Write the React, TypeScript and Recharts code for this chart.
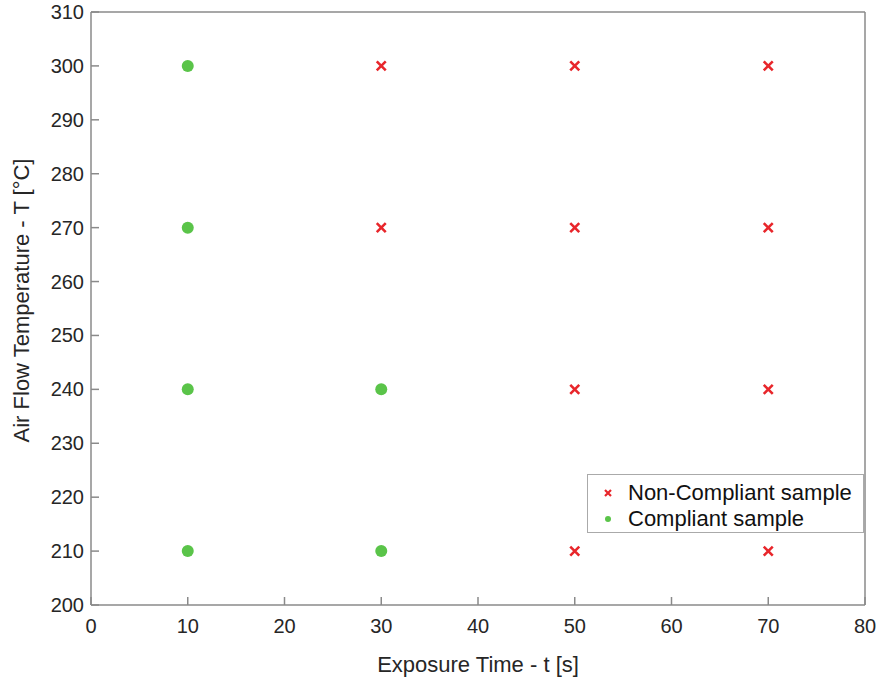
import { Legend, Scatter, ScatterChart, XAxis, YAxis } from "recharts";

// exposure time [s] and air flow temperature [°C] per sample
const compliantTime = [10, 10, 10, 30, 10, 30];
const compliantTemp = [300, 270, 240, 240, 210, 210];
const nonCompliantTime = [30, 50, 70, 30, 50, 70, 50, 70, 50, 70];
const nonCompliantTemp = [300, 300, 300, 270, 270, 270, 240, 240, 210, 210];

const seriesNames = ["Non-Compliant sample", "Compliant sample"];

const xTicks = [0, 10, 20, 30, 40, 50, 60, 70, 80];
const yTicks = [200, 210, 220, 230, 240, 250, 260, 270, 280, 290, 300, 310];

const compliant = compliantTime.map((t, i) => ({ t, T: compliantTemp[i] }));
const nonCompliant = nonCompliantTime.map((t, i) => ({ t, T: nonCompliantTemp[i] }));

const RED = "#e8262b";
const GREEN = "#5ac449";
const AXIS = "#8a8a8a";
const INK = "#262626";
const FONT = "Liberation Sans, Arial, sans-serif";
const TICK_LEN = 8;

function BottomTick({ x, y, payload }: any) {
  return (
    <g>
      <line x1={x} y1={y} x2={x} y2={y - TICK_LEN} stroke={AXIS} strokeWidth={1.5} />
      <text x={x} y={y + 28} textAnchor="middle" fontSize={20} fontFamily={FONT} fill={INK}>
        {payload.value}
      </text>
    </g>
  );
}

function LeftTick({ x, y, payload }: any) {
  return (
    <g>
      <line x1={x} y1={y} x2={x + TICK_LEN} y2={y} stroke={AXIS} strokeWidth={1.5} />
      <text x={x - 7} y={y + 7} textAnchor="end" fontSize={20} fontFamily={FONT} fill={INK}>
        {payload.value}
      </text>
    </g>
  );
}

function TopTick({ x, y }: any) {
  return <line x1={x} y1={y} x2={x} y2={y + TICK_LEN} stroke={AXIS} strokeWidth={1.5} />;
}

function RightTick({ x, y }: any) {
  return <line x1={x} y1={y} x2={x - TICK_LEN} y2={y} stroke={AXIS} strokeWidth={1.5} />;
}

function Cross({ cx, cy, s = 4.5, w = 2.6 }: any) {
  if (cx == null || cy == null) return null;
  return (
    <path
      d={`M${cx - s},${cy - s}L${cx + s},${cy + s}M${cx - s},${cy + s}L${cx + s},${cy - s}`}
      stroke={RED}
      strokeWidth={w}
      fill="none"
    />
  );
}

function Dot({ cx, cy, r = 6 }: any) {
  if (cx == null || cy == null) return null;
  return <circle cx={cx} cy={cy} r={r} fill={GREEN} />;
}

function LegendBox({ payload }: any) {
  const items = [...(payload || [])].sort(
    (a: any, b: any) => seriesNames.indexOf(a.value) - seriesNames.indexOf(b.value)
  );
  return (
    <div
      style={{
        width: 277,
        height: 59,
        boxSizing: "border-box",
        border: "1.5px solid #aaa",
        background: "#fff",
        padding: "5px 0 0 0",
        fontFamily: FONT,
        fontSize: 22,
        color: "#111",
      }}
    >
      {items.map((entry: any) => (
        <div key={entry.value} style={{ display: "flex", alignItems: "center", height: 26 }}>
          <svg width={40} height={20}>
            {entry.value === seriesNames[0] ? (
              <Cross cx={20} cy={10} s={3} w={2.2} />
            ) : (
              <Dot cx={20} cy={10} r={3} />
            )}
          </svg>
          <span>{entry.value}</span>
        </div>
      ))}
    </div>
  );
}

export default function App() {
  return (
    <div style={{ position: "absolute", left: 0, top: 0, background: "#fff" }}>
      <ScatterChart
        width={881}
        height={681}
        margin={{ top: 11, right: 15, bottom: 0, left: 0 }}
        style={{ fontFamily: FONT }}
      >
        <XAxis
          type="number"
          dataKey="t"
          domain={[0, 80]}
          ticks={xTicks}
          height={76}
          tickSize={0}
          tickMargin={0}
          tickLine={false}
          tick={<BottomTick />}
          axisLine={{ stroke: AXIS, strokeWidth: 1.5 }}
          label={{
            value: "Exposure Time - t [s]",
            position: "insideBottom",
            offset: 9,
            fontSize: 22,
            fill: INK,
          }}
        />
        <XAxis
          xAxisId="top"
          orientation="top"
          type="number"
          domain={[0, 80]}
          ticks={xTicks}
          height={1}
          tickSize={0}
          tickMargin={0}
          tickLine={false}
          tick={<TopTick />}
          axisLine={{ stroke: AXIS, strokeWidth: 1.5 }}
        />
        <YAxis
          type="number"
          dataKey="T"
          domain={[200, 310]}
          ticks={yTicks}
          width={91}
          tickSize={0}
          tickMargin={0}
          tickLine={false}
          tick={<LeftTick />}
          axisLine={{ stroke: AXIS, strokeWidth: 1.5 }}
          label={({ viewBox }: any) => (
            <text
              x={29}
              y={viewBox.y + viewBox.height / 2 - 8}
              transform={`rotate(-90 29 ${viewBox.y + viewBox.height / 2 - 8})`}
              textAnchor="middle"
              fontSize={22}
              fontFamily={FONT}
              fill={INK}
            >
              Air Flow Temperature - T [°C]
            </text>
          )}
        />
        <YAxis
          yAxisId="right"
          orientation="right"
          type="number"
          domain={[200, 310]}
          ticks={yTicks}
          width={1}
          tickSize={0}
          tickMargin={0}
          tickLine={false}
          tick={<RightTick />}
          axisLine={{ stroke: AXIS, strokeWidth: 1.5 }}
        />
        <Scatter
          name={seriesNames[0]}
          data={nonCompliant}
          fill={RED}
          shape={<Cross />}
          isAnimationActive={false}
        />
        <Scatter
          name={seriesNames[1]}
          data={compliant}
          fill={GREEN}
          shape={<Dot />}
          isAnimationActive={false}
        />
        <Legend
          layout="vertical"
          align="center"
          verticalAlign="middle"
          content={<LegendBox />}
          wrapperStyle={{ position: "absolute", left: 587, top: 474, width: 277, height: 59 }}
        />
      </ScatterChart>
    </div>
  );
}
